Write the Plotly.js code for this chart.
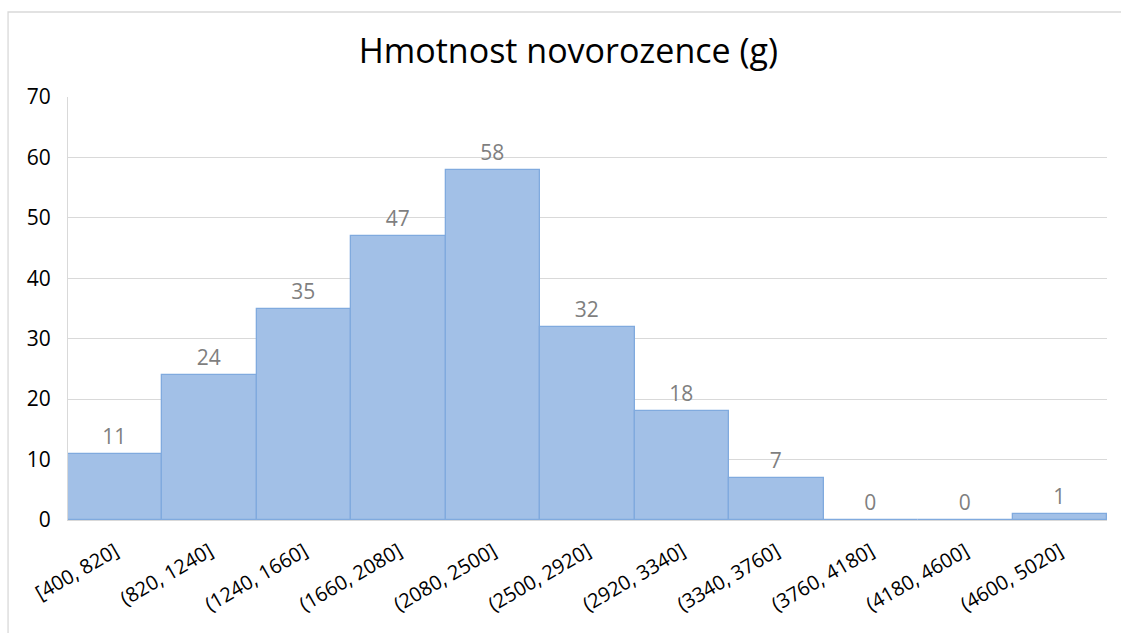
<!DOCTYPE html>
<html>
<head>
<meta charset="utf-8">
<script src="https://cdn.plot.ly/plotly-3.0.1.min.js"></script>
<style>html,body{margin:0;padding:0;background:#fff;}#chart{width:1121px;height:633px;}</style>
</head>
<body>
<div id="chart"></div>
<script>
const categories = ["[400, 820]", "(820, 1240]", "(1240, 1660]", "(1660, 2080]", "(2080, 2500]", "(2500, 2920]", "(2920, 3340]", "(3340, 3760]", "(3760, 4180]", "(4180, 4600]", "(4600, 5020]"];
const counts = [11, 24, 35, 47, 58, 32, 18, 7, 0, 0, 1];
const yTicks = [0, 10, 20, 30, 40, 50, 60, 70];
const titleText = "Hmotnost novorozence (g)";

const trace = {
  type: "bar",
  x: categories,
  y: counts,
  text: counts.map(String),
  textposition: "outside",
  cliponaxis: false,
  textfont: {family: "Open Sans", size: 21, color: "#7f7f7f"},
  marker: {color: "#a2c0e7", line: {color: "#80aade", width: 1.3}},
  hoverinfo: "x+y"
};

const layout = {
  width: 1121, height: 633,
  margin: {l: 68, r: 14, t: 97, b: 113},
  paper_bgcolor: "#ffffff", plot_bgcolor: "#ffffff",
  bargap: 0,
  showlegend: false,
  title: {text: titleText, font: {family: "Open Sans", size: 34, color: "#000000"}, x: 0.507, xanchor: "center", y: 0.92, yanchor: "middle"},
  xaxis: {
    type: "category",
    tickangle: -30,
    tickfont: {family: "Open Sans", size: 20, color: "#000000"},
    showgrid: false, zeroline: false,
    showline: true, linecolor: "#d9d9d9", linewidth: 1.3,
    ticks: "outside", ticklen: 11, tickcolor: "rgba(0,0,0,0)"
  },
  yaxis: {
    range: [0, 70],
    tickvals: yTicks,
    tickfont: {family: "Open Sans", size: 21, color: "#000000"},
    showgrid: true, gridcolor: "#d9d9d9", gridwidth: 1.3,
    zeroline: false,
    showline: true, linecolor: "#d9d9d9", linewidth: 1.3,
    ticks: "outside", ticklen: 12, tickcolor: "rgba(0,0,0,0)"
  },
  shapes: [{
    type: "rect", xref: "paper", yref: "paper",
    x0: -0.0577, x1: 1.2, y0: -0.6, y1: 1.2009,
    line: {color: "#d9d9d9", width: 1.3}, fillcolor: "rgba(0,0,0,0)", layer: "below"
  }]
};

Plotly.newPlot("chart", [trace], layout, {displayModeBar: false, responsive: false});
</script>
</body>
</html>
